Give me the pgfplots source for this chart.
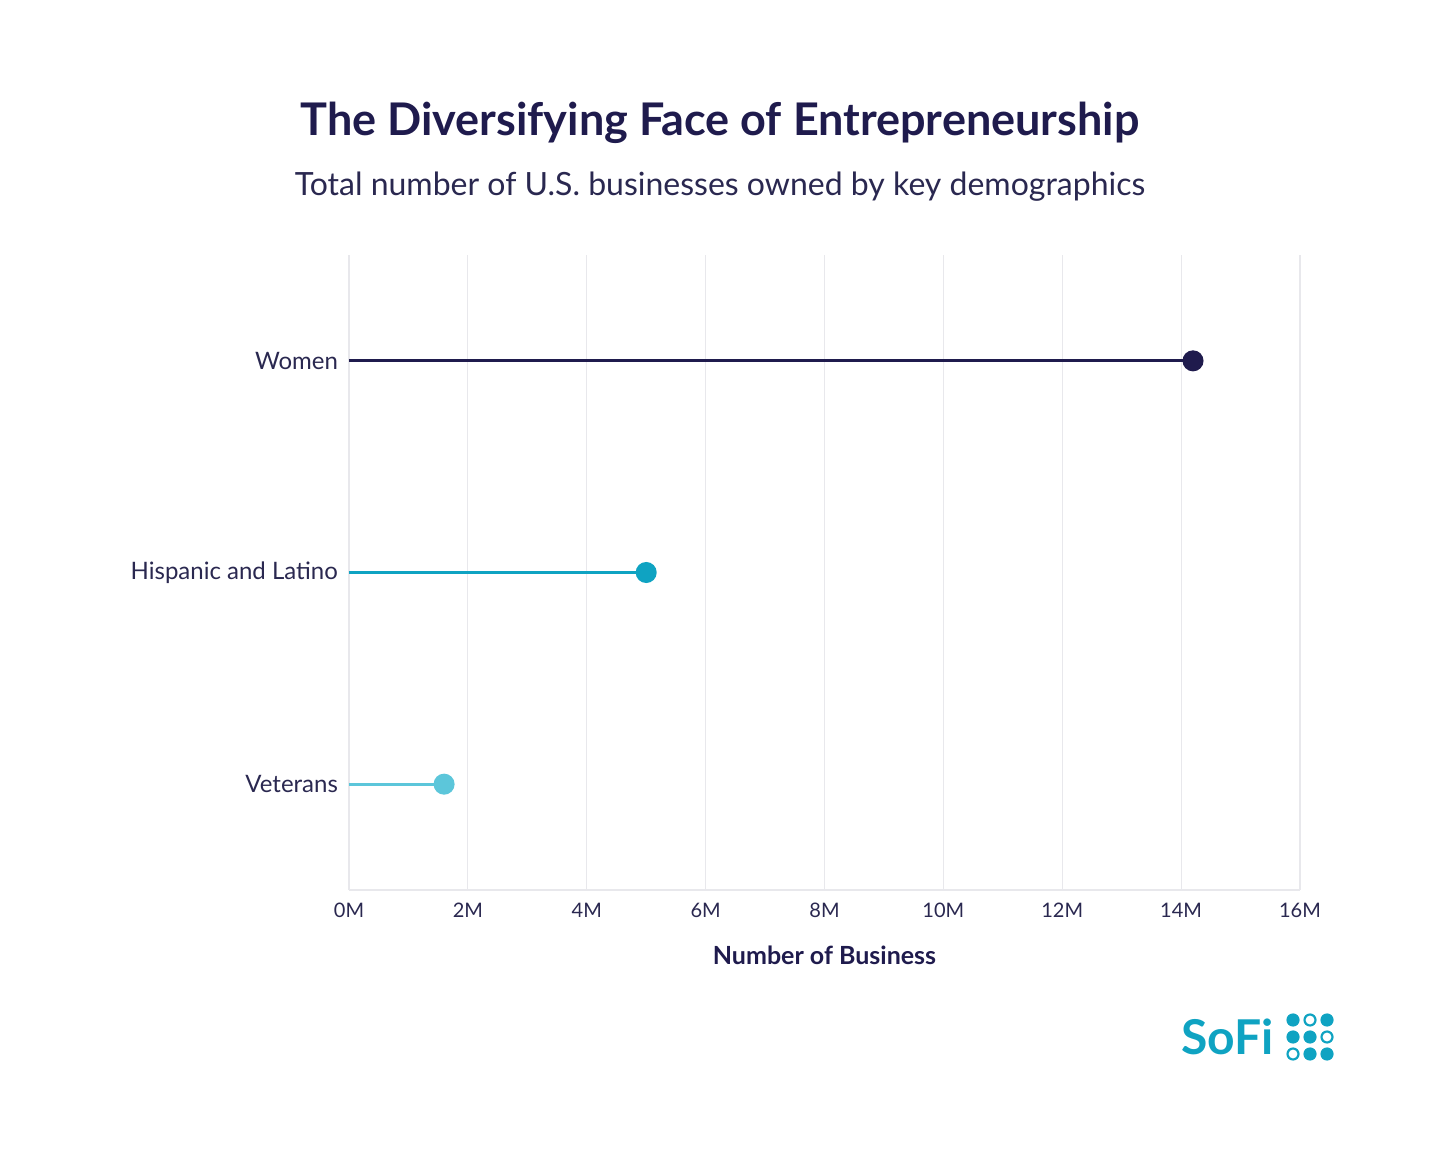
\documentclass[border=0pt]{standalone}
\usepackage{pgfplots}
\pgfplotsset{compat=1.18}
\usepackage{fontspec}
\setmainfont{Lato}
\definecolor{navy}{HTML}{1F1B4D}
\definecolor{teal}{HTML}{0FA3C2}
\definecolor{lteal}{HTML}{5CC6DA}
\definecolor{gridc}{HTML}{E8E8EC}
\definecolor{txt}{HTML}{2A2850}
\begin{document}
\begin{tikzpicture}
\path[use as bounding box] (-174.5pt,-135.5pt) rectangle (545.5pt,445pt);
\begin{axis}[at={(0,0)},anchor=origin,scale only axis,width=475.5pt,height=317.5pt,
 xmin=0,xmax=16,ymin=0,ymax=6,
 xtick={0,2,...,16},xticklabel={\pgfmathprintnumber{\tick}M},
 /pgf/number format/assume math mode=true,
 ytick={1,3,5},yticklabels={Veterans,Hispanic and Latino,Women},
 yticklabel style={font=\fontsize{12}{14}\selectfont,text=txt,xshift=-2pt},
 xticklabel style={font=\fontsize{10}{12}\selectfont,text=txt,yshift=-3pt},
 xmajorgrids=true,ymajorgrids=false,major grid style={draw=gridc,line width=0.6pt},
 axis x line*=bottom, axis y line*=left,
 axis line style={draw=gridc,line width=0.8pt},
 tick style={draw=none},
 xlabel={\bfseries Number of Business},
 xlabel style={font=\fontsize{12.5}{15}\selectfont,text=navy,yshift=-7pt},
 clip=false]
\addplot[navy,line width=1.5pt,mark=*,mark size=4.5pt,mark indices={2}] coordinates {(0,5) (14.2,5)};
\addplot[teal,line width=1.5pt,mark=*,mark size=4.5pt,mark indices={2}] coordinates {(0,3) (5.0,3)};
\addplot[lteal,line width=1.5pt,mark=*,mark size=4.5pt,mark indices={2}] coordinates {(0,1) (1.6,1)};
\end{axis}
\node[text=navy,font=\fontsize{22.5}{27}\selectfont\bfseries] at (185.5pt,383.5pt) {The Diversifying Face of Entrepreneurship};
\node[text=txt,font=\fontsize{16}{19}\selectfont] at (185.5pt,351.5pt) {Total number of U.S. businesses owned by key demographics};
\node[text=teal,font=\fontsize{24}{28}\selectfont\bfseries,anchor=east] at (466pt,-73.5pt) {SoFi};
\foreach \i in {0,1,2}{\foreach \j in {0,1,2}{
 \fill[teal] (472pt+\i*8.5pt,-65pt-\j*8.5pt) circle (3.3pt);}}
\foreach \i/\j in {1/0,0/2,2/1}{\fill[white] (472pt+\i*8.5pt,-65pt-\j*8.5pt) circle (2.2pt);}
\end{tikzpicture}
\end{document}
